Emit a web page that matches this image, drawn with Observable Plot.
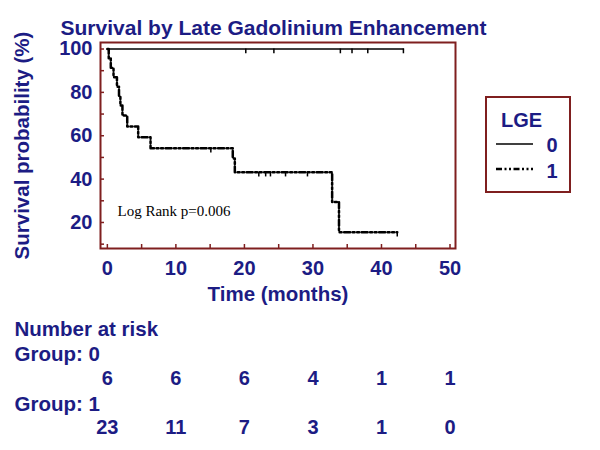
<!DOCTYPE html>
<html>
<head>
<meta charset="utf-8">
<script src="https://cdn.jsdelivr.net/npm/d3@7"></script>
<script src="https://cdn.jsdelivr.net/npm/@observablehq/plot@0.6"></script>
<style>
  body { margin: 0; background: #fff; }
  #wrap { position: relative; width: 600px; height: 450px; font-family: Arial, "Liberation Sans", sans-serif; }
  #legend { position: absolute; left: 485px; top: 96px; width: 86px; height: 97px; box-sizing: border-box; border: 2px solid #7f1f1f; background: #fff; }
</style>
</head>
<body>
<div id="wrap"><div id="chart"></div><div id="legend"></div></div>
<script>
// ---- data ----
const group0Times = [0, 43.2];
const group0Surv = [100, 100];
const group0CensorTimes = [20.2, 24.3, 34.0, 35.7, 38.0, 43.2];

const group1Times = [0, 0.2, 0.5, 0.9, 1.4, 1.7, 1.9, 2.2, 2.9, 4.5, 6.3, 18.3, 18.6, 32.8, 33.8, 42.3];
const group1Surv  = [100, 95.7, 91.3, 87.0, 82.6, 78.3, 73.9, 69.3, 64.3, 59.3, 54.2, 49.5, 43.2, 29.4, 15.5, 15.5];
const group1CensorTimes = [15.1, 22.1, 23.1, 23.8, 26.0, 29.2, 42.3];
const group1CensorSurv  = [54.2, 43.2, 43.2, 43.2, 43.2, 43.2, 15.5];

const riskTimes = [0, 10, 20, 30, 40, 50];
const riskGroup0 = [6, 6, 6, 4, 1, 1];
const riskGroup1 = [23, 11, 7, 3, 1, 0];

const xMajorTicks = [0, 10, 20, 30, 40, 50];
const xMinorTicks = [0, 5, 10, 15, 20, 25, 30, 35, 40, 45, 50];
const yMajorTicks = [20, 40, 60, 80, 100];
const yMinorTicks = [10, 20, 30, 40, 50, 60, 70, 80, 90, 100];

const titleText = "Survival by Late Gadolinium Enhancement";
const yLabel = "Survival probability (%)";
const xLabel = "Time (months)";
const annotation = "Log Rank p=0.006";
const legendTitle = "LGE";
const groups = ["0", "1"];

// ---- styles ----
const navy = "#1c1c84";
const darkRed = "#7f1f1f";
const font = "Arial, 'Liberation Sans', sans-serif";
const dash1 = "6,2.5,2,2.5,2,2.5";

const g0 = group0Times.map((t, i) => ({t, s: group0Surv[i]}));
const g1 = group1Times.map((t, i) => ({t, s: group1Surv[i]}));
const c0 = group0CensorTimes.map(t => ({t, s: 100}));
const c1 = group1CensorTimes.map((t, i) => ({t, s: group1CensorSurv[i]}));
const r0 = riskTimes.map((t, i) => ({t, n: riskGroup0[i]}));
const r1 = riskTimes.map((t, i) => ({t, n: riskGroup1[i]}));

const words = {fontWeight: "bold", fontSize: 20.5, fill: navy, fontFamily: font};
const digits = {fontWeight: "bold", fontSize: 20, fill: navy, fontFamily: font};

const chart = Plot.plot({
  width: 600,
  height: 450,
  marginLeft: 100,
  marginRight: 145,
  marginTop: 42,
  marginBottom: 202,
  style: {fontFamily: font, background: "#fff", overflow: "visible"},
  x: {domain: [-1, 50.8]},
  y: {domain: [8, 103]},
  marks: [
    Plot.frame({stroke: darkRed, strokeWidth: 2}),
    Plot.axisX(xMinorTicks, {tickSize: -4, stroke: darkRed, strokeWidth: 1.5, tickFormat: () => "", label: null}),
    Plot.axisX(xMajorTicks, {tickSize: 0, tickPadding: 12, label: null, ...digits}),
    Plot.axisY(yMinorTicks, {tickSize: -4, stroke: darkRed, strokeWidth: 1.5, tickFormat: () => "", label: null}),
    Plot.axisY(yMajorTicks, {tickSize: 0, tickPadding: 8, label: null, ...digits}),
    Plot.line(g0, {x: "t", y: "s", curve: "step-after", stroke: "#000", strokeWidth: 1.5}),
    Plot.ruleX(c0, {x: "t", y1: "s", y2: d => d.s - 2.2, stroke: "#000", strokeWidth: 1.5}),
    Plot.line(g1, {x: "t", y: "s", curve: "step-after", stroke: "#000", strokeWidth: 2.5, strokeDasharray: dash1}),
    Plot.ruleX(c1, {x: "t", y1: "s", y2: d => d.s - 2.2, stroke: "#000", strokeWidth: 1.5}),
    Plot.text([annotation], {frameAnchor: "bottom-left", dx: 17, dy: -33, textAnchor: "start", fontSize: 15, fontFamily: "'Times New Roman', 'Liberation Serif', serif", fill: "#000"}),
    // title and axis labels
    Plot.text([titleText], {frameAnchor: "top-left", dx: -40, dy: -22, textAnchor: "start", ...words, fontSize: 21}),
    Plot.text([yLabel], {frameAnchor: "left", dx: -78, rotate: -90, textAnchor: "middle", ...words}),
    Plot.text([xLabel], {frameAnchor: "bottom", dy: 52, textAnchor: "middle", ...words}),
    // number at risk table
    Plot.text(["Number at risk"], {frameAnchor: "bottom-left", dx: -86, dy: 87, textAnchor: "start", ...words}),
    Plot.text(["Group: " + groups[0]], {frameAnchor: "bottom-left", dx: -86, dy: 112, textAnchor: "start", ...words}),
    Plot.text(r0, {x: "t", text: "n", frameAnchor: "bottom", dy: 136, ...digits}),
    Plot.text(["Group: " + groups[1]], {frameAnchor: "bottom-left", dx: -86, dy: 162, textAnchor: "start", ...words}),
    Plot.text(r1, {x: "t", text: "n", frameAnchor: "bottom", dy: 185, ...digits})
  ]
});
document.getElementById("chart").appendChild(chart);

// legend
const lg = d3.select("#legend").append("svg").attr("width", 82).attr("height", 93).style("display", "block");
lg.append("text").attr("x", 14).attr("y", 22).attr("dy", "0.35em").attr("fill", navy)
  .attr("font-family", font).attr("font-weight", "bold").attr("font-size", 20).text(legendTitle);
lg.append("line").attr("x1", 9).attr("x2", 46).attr("y1", 46).attr("y2", 46).attr("stroke", "#000").attr("stroke-width", 1.5);
lg.append("line").attr("x1", 9).attr("x2", 46).attr("y1", 71).attr("y2", 71).attr("stroke", "#000").attr("stroke-width", 2.5).attr("stroke-dasharray", dash1);
lg.append("text").attr("x", 65).attr("y", 47).attr("dy", "0.35em").attr("text-anchor", "middle").attr("fill", navy)
  .attr("font-family", font).attr("font-weight", "bold").attr("font-size", 20).text(groups[0]);
lg.append("text").attr("x", 65).attr("y", 73).attr("dy", "0.35em").attr("text-anchor", "middle").attr("fill", navy)
  .attr("font-family", font).attr("font-weight", "bold").attr("font-size", 20).text(groups[1]);
</script>
</body>
</html>
